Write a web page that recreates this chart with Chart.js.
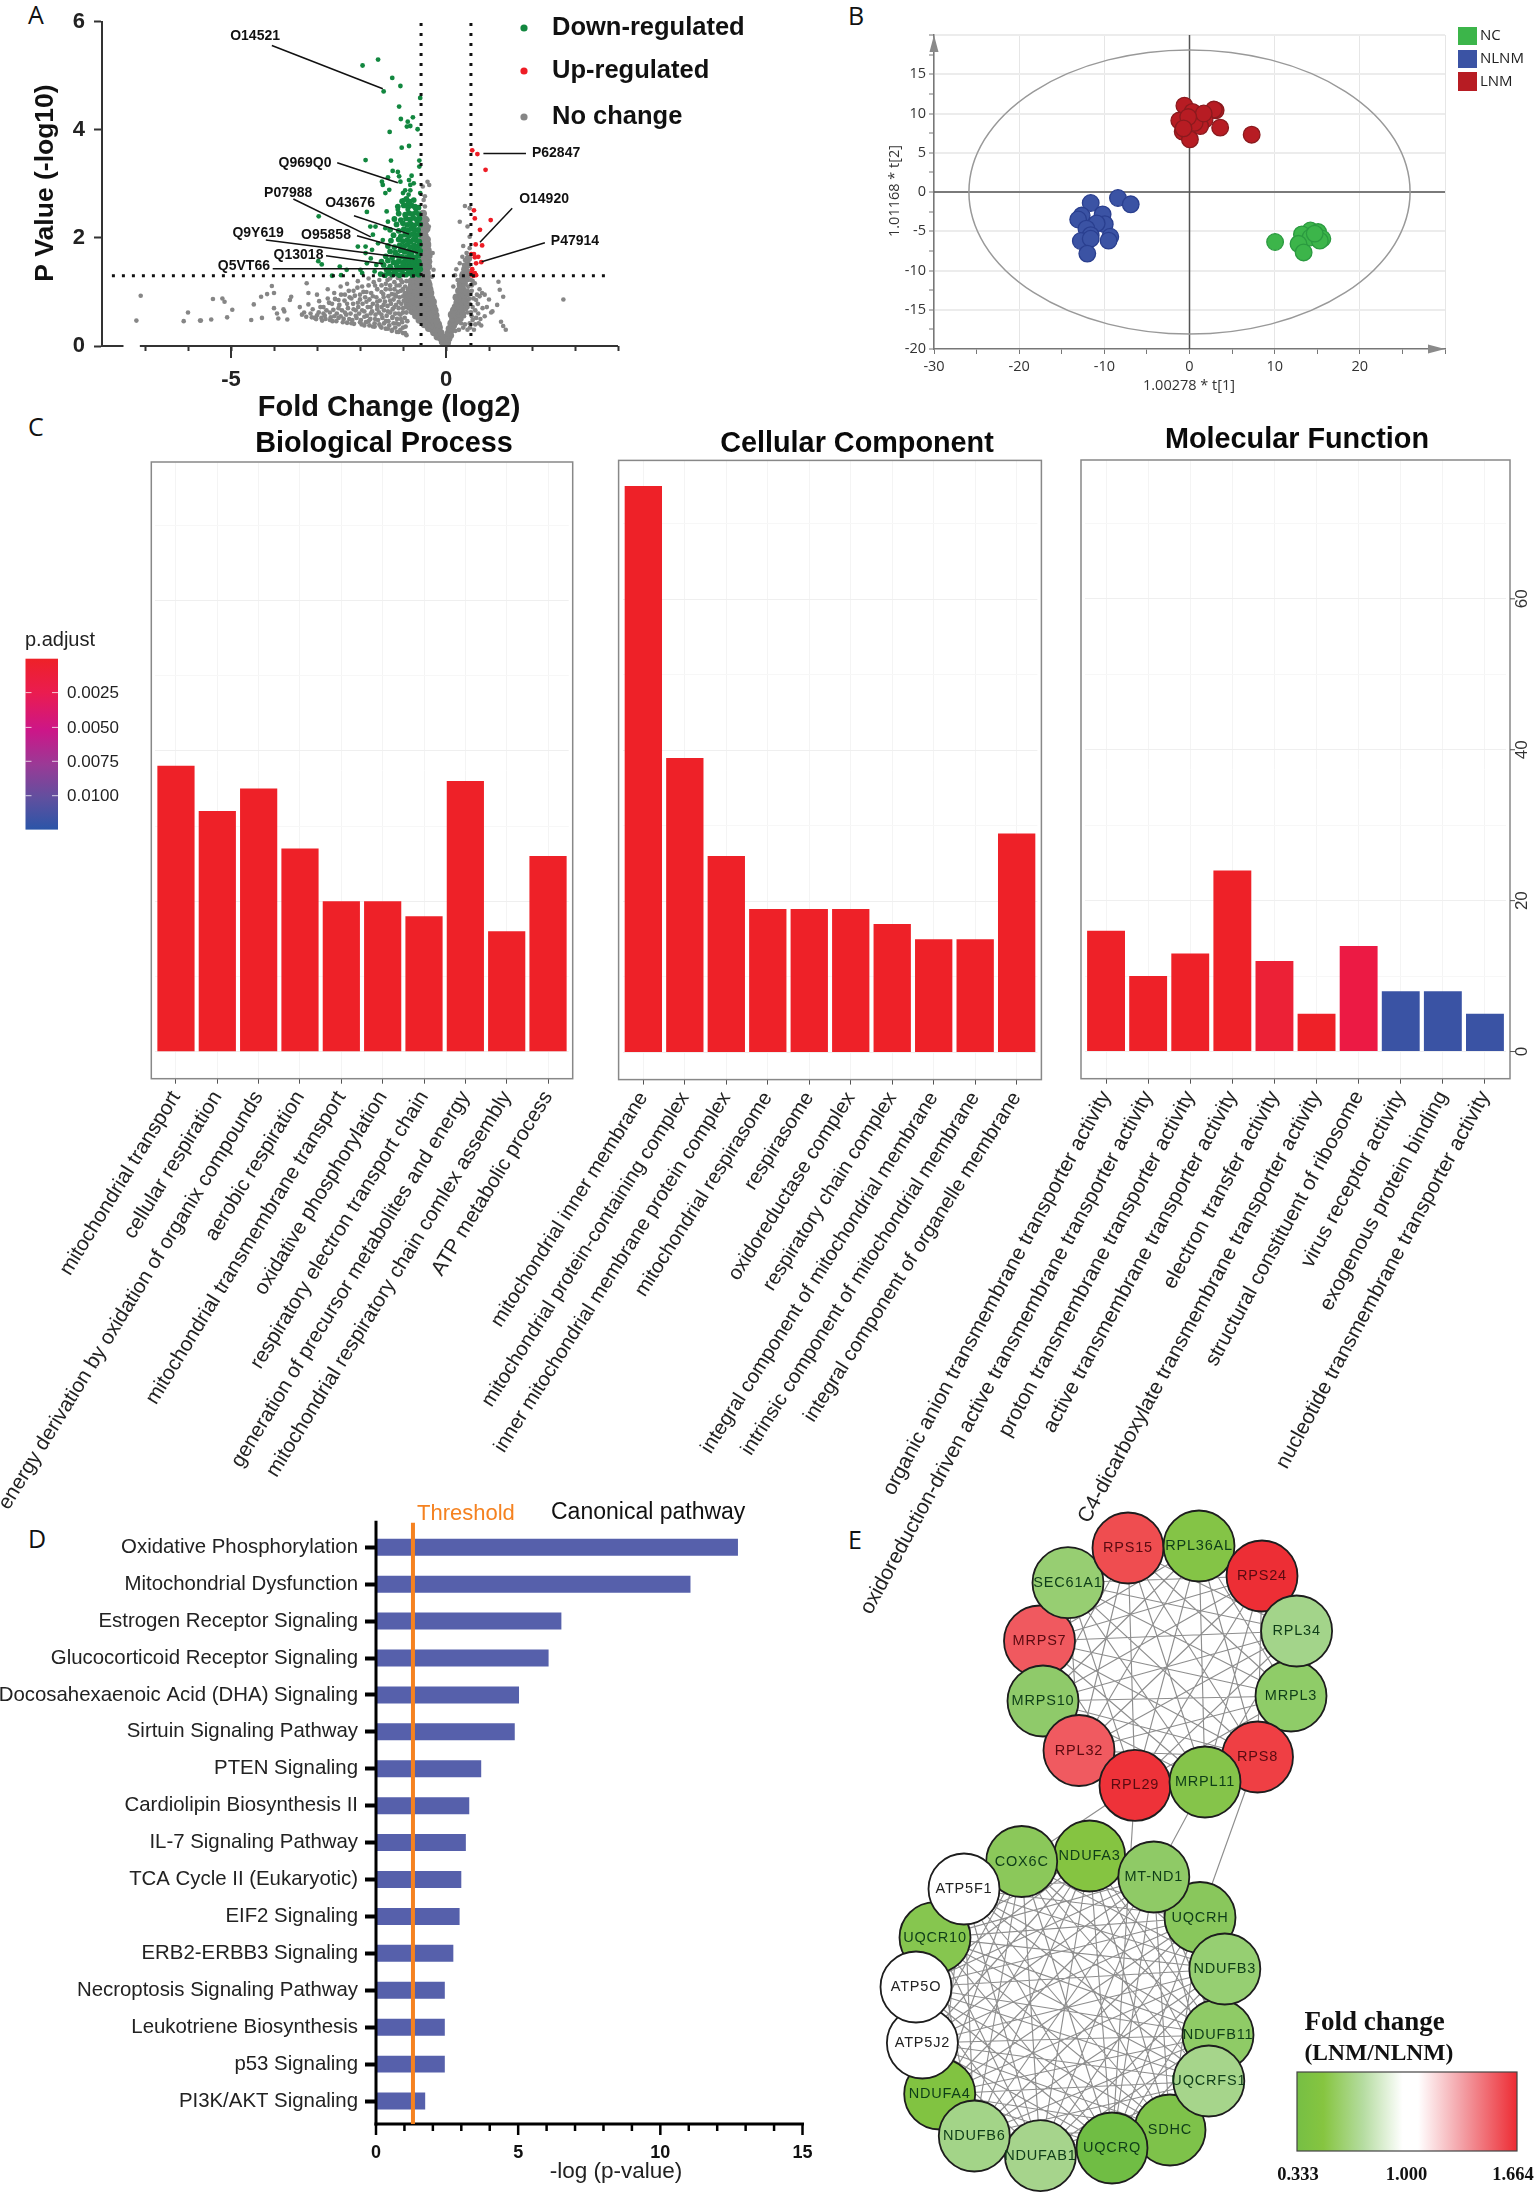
<!doctype html>
<html><head><meta charset="utf-8">
<style>
html,body{margin:0;padding:0;background:#fff;width:1535px;height:2192px;overflow:hidden}
canvas{position:absolute}
.tag{position:absolute;font:25px "Open Sans",sans-serif;color:#111;line-height:1}
</style>
<script src="https://cdn.jsdelivr.net/npm/chart.js@4"></script>
</head><body>
<div class="tag" style="left:28px;top:2px">A</div>
<div class="tag" style="left:848px;top:3px">B</div>
<div class="tag" style="left:28px;top:414px">C</div>
<div class="tag" style="left:28px;top:1526px">D</div>
<div class="tag" style="left:848px;top:1527px">E</div>
<script>
/* ---------- Panel A data: log2 fold change, -log10 p ---------- */
const fcCut=[-0.58,0.58];
const pCut=[1.3];
const volcanoUp=[[.61,3.62],[.73,3.55],[.92,3.26],[.65,2.51],[.67,2.36],[1.04,2.33],[.79,2.15],[.69,1.88],[.84,1.86],[.59,1.7],[.65,1.7],[.67,1.64],[.75,1.65],[.7,1.53],[.82,1.55],[.61,1.42],[.59,1.35],[.67,1.35],[.64,1.3],[.7,1.31],[.61,1.31],[.66,1.33]];
const volcanoDownSparse=[[-1.58,5.3],[-1.94,5.19],[-1.25,4.96],[-1.06,4.81],[-1.45,4.71],[-.6,4.59],[-1.09,4.43],[-1.05,4.2],[-.77,4.23],[-.89,4.15],[-.83,4.07],[-.91,4.06],[-.66,4.01],[-1.31,3.96],[-1.03,3.67],[-.86,3.7],[-1.87,3.44],[-1.28,3.43],[-.62,3.43],[-.62,3.32],[-1.24,3.24],[-1.12,3.22],[-1.35,3.12],[-1.09,3.14],[-.8,3.15],[-1.06,3.04],[-.86,3.07],[-1.49,3.04],[-1.47,2.98],[-.83,2.98],[-.75,3.01],[-1.32,2.89],[-.95,2.88],[-.83,2.88],[-1.41,2.83],[-1,2.83],[-.87,2.8],[-.6,2.83],[-.98,2.7],[-.89,2.64],[-1.84,2.48],[-2.96,2.4],[-1.38,2.49],[-1.12,2.52],[-.89,2.52],[-.72,2.55],[-2.97,1.57],[-2.89,1.51],[-2.47,1.47],[-2.65,1.3],[-2.44,1.31],[-2.31,1.41],[-1.99,1.41],[-1.95,1.35],[-1.84,1.53],[-2.05,1.84],[-1.87,1.72],[-1.72,1.78],[-1.76,2.21],[-1.64,2.21],[-1.7,2.06],[-1.87,1.84],[-1.58,1.9],[-1.47,1.96],[-1.41,2.18],[-1.35,2.3],[-1.75,1.62],[-1.62,1.5],[-1.66,1.38]];
const volcanoDownDense=[[-1.52,1.33],[-1.42,1.31],[-1.33,1.35],[-1.25,1.32],[-1.17,1.34],[-1.08,1.31],[-1,1.33],[-.93,1.32],[-.86,1.35],[-.78,1.31],[-.7,1.34],[-.63,1.32],
[-1.38,1.41],[-1.28,1.43],[-1.2,1.39],[-1.1,1.42],[-1.02,1.4],[-.95,1.44],[-.88,1.41],[-.8,1.39],[-.72,1.43],[-.65,1.4],[-.6,1.42],
[-1.45,1.5],[-1.3,1.47],[-1.15,1.49],[-1.05,1.46],[-.97,1.5],[-.9,1.48],[-.83,1.47],[-.75,1.51],[-.68,1.48],[-.61,1.49],
[-1.5,1.56],[-1.35,1.58],[-1.22,1.55],[-1.1,1.57],[-1,1.54],[-.92,1.58],[-.85,1.56],[-.77,1.55],[-.7,1.58],[-.63,1.56],
[-1.4,1.66],[-1.25,1.64],[-1.12,1.67],[-1.03,1.65],[-.94,1.63],[-.86,1.67],[-.78,1.65],[-.71,1.64],[-.64,1.67],
[-1.3,1.75],[-1.18,1.73],[-1.06,1.77],[-.96,1.74],[-.88,1.76],[-.8,1.73],[-.73,1.77],[-.66,1.74],[-.6,1.76],
[-1.35,1.85],[-1.2,1.83],[-1.08,1.86],[-.98,1.84],[-.9,1.87],[-.82,1.83],[-.74,1.86],[-.67,1.84],[-.61,1.87],
[-1.28,1.95],[-1.1,1.97],[-1,1.94],[-.9,1.96],[-.83,1.93],[-.75,1.97],[-.68,1.95],[-.62,1.93],
[-1.22,2.05],[-1.05,2.03],[-.95,2.06],[-.86,2.04],[-.78,2.07],[-.7,2.04],[-.63,2.06],
[-1.3,2.15],[-1.1,2.13],[-.98,2.16],[-.88,2.14],[-.8,2.17],[-.72,2.14],[-.65,2.15],
[-1.15,2.25],[-1,2.27],[-.9,2.24],[-.82,2.26],[-.74,2.23],[-.66,2.27],[-.6,2.25],
[-1.2,2.35],[-1.05,2.33],[-.93,2.36],[-.84,2.34],[-.76,2.37],[-.68,2.34],[-.62,2.36],
[-1.1,2.45],[-.95,2.43],[-.86,2.46],[-.78,2.44],[-.7,2.47],[-.63,2.44],
[-1.12,2.58],[-.98,2.6],[-.88,2.57],[-.8,2.6],[-.72,2.58],[-.64,2.56],
[-1.02,2.68],[-.92,2.72],[-.85,2.67],[-.75,2.7]];
const volcanoNoChangeSparse=[[-7.1,.93],[-7.2,.47],[-6,.62],[-6.1,.46],[-5.7,.47],[-5.72,.47],[-5.42,.87],[-5.46,.49],[-5.2,.88],[-5.15,.82],[-5.09,.53],[-4.97,.67],[-4.47,.77],[-4.53,.48],[-4.3,.91],[-4.28,.52],[-4.16,.96],[-4,.98],[-4.05,1.11],[-4,.7],[-3.93,.6],[-3.9,.51],[-3.76,.64],[-3.69,.49],[-3.78,.68],[-3.6,.91],[-3.63,.85],[-3.24,1.16],[-3.2,.98],
[-3.4,.72],[-3.35,.58],[-3.3,.62],[-3.25,.54],[-3.2,.77],[-3.15,.6],[-3.1,.68],[-3.05,.52],[-3,.95],[-3,.57],[-2.95,.83],[-2.9,.52],[-2.85,.72],[-2.85,.6],[-2.8,.5],[-2.75,.88],[-2.75,1.05],[-2.7,.48],[-2.7,.62],[-2.65,.78],[-2.6,.98],[-2.6,.55],[-2.55,.46],[-2.5,.7],[-2.5,.85],[-2.45,1.1],[-2.45,.55],[-2.4,.44],[-2.35,.62],[-2.35,.95],[-2.3,.78],[-2.3,1.15],[-2.25,.5],[-2.2,.42],[-2.2,.88],[-2.15,.68],[-2.15,1.02],[-2.1,.56],[-2.05,.8],[-2.05,1.2],[-2,.44],[-2,.95],[-1.95,.66],[-1.95,1.1],[-1.9,.38],[-1.9,.54],[-1.85,.82],[-1.85,1],[-1.8,.46],[-1.8,1.25],[-1.75,.72],[-1.75,.6],[-1.7,.36],[-1.7,.92],[-1.65,1.12],[-1.65,.5],[-1.6,.68],[-1.6,.82],[-1.55,.4],[-1.55,1.22],[-1.5,.34],[-1.5,.58],[-1.5,1],[-1.45,.76],[-1.45,.9],[-1.4,.46],[-1.4,1.15],[-1.35,.32],[-1.35,.64],[-1.3,.84],[-1.3,1.05],[-1.3,1.25],[-1.25,.52],[-1.25,.3],[-1.2,.72],[-1.2,.95],[-1.15,.42],[-1.15,1.12],[-1.1,.26],[-1.1,.6],[-1.1,.82],[-1.05,1.02],[-1.05,1.22],[-1.05,.5],[-1,.34],[-1,.7],[-1,.92],[-.95,.24],[-.95,1.1],
[-.43,3.04],[-.39,2.98],[-.54,2.95],[-.49,2.77],[-.52,2.7],[-.49,2.58],[-.54,2.46],[-.43,2.33],[-.4,2.21],[-.49,2.09],[-.4,1.9],[-.31,1.72],[-.37,1.56],[-.29,1.41],[-.33,1.28],
[.6,.55],[.55,.42],[.62,.72],[.7,.85],[.75,.6],[.68,.4],[.8,.5],[.85,.7],[.72,.95],[.6,1.02],[.78,1.05],[.9,.95],[.82,.38],[.9,.55],[.65,.3],[.5,.3],[.95,.72],[1,.86],[1.05,.62],[1.22,1.19],[1.25,1.04],[1.33,.91],[1.19,.76],[1.08,.64],[1.28,.45],[1.33,.37],[1.39,.3],[2.73,.86],[.55,.88],[.84,.98],[.67,1.16],[.58,1.22],[.6,1.12],[.35,.42],[.42,.55],[.5,.62],[.55,.78],
[.44,2.59],[.32,2.3],[.55,2.55],[.5,2.21],[.55,2.02],[.4,1.85],[.55,1.81],[.32,1.53],[.44,1.59],[.24,1.42],[.21,1.31],[.27,1.22],[.17,1.1],[.38,1.65],[.5,1.47]];
const volcanoNoChangeWing=[[-3.12,.53],[-3.02,.5],[-2.96,.62],[-2.92,.72],[-2.88,.47],[-2.82,.56],[-2.78,.66],[-2.72,.8],[-2.68,.53],[-2.64,.46],[-2.62,.67],[-2.58,.87],[-2.54,.6],[-2.5,.52],[-2.48,.76],[-2.44,.95],[-2.42,.66],[-2.38,.5],[-2.36,.84],[-2.32,.58],[-2.3,.43],[-2.28,.7],[-2.26,1.02],[-2.24,.9],[-2.22,.6],[-2.18,.48],[-2.16,.78],[-2.14,.41],[-2.12,.93],[-2.1,.66],[-2.08,.52],[-2.06,1.08],[-2.04,.72],[-2.02,.6],[-2,.86],[-1.98,.48],[-1.96,.4],[-1.94,.78],[-1.92,1],[-1.9,.64],[-1.88,.9],[-1.86,.44],[-1.84,.56],[-1.82,.72],[-1.8,1.12],[-1.78,.38],[-1.78,.86],[-1.76,.5],[-1.74,.98],[-1.72,.64],[-1.7,.78],[-1.68,1.18],[-1.66,.36],[-1.66,.42],[-1.64,.58],[-1.62,.9],[-1.6,.74],[-1.6,1.05],[-1.58,.48],[-1.56,.62],[-1.54,.84],[-1.52,.36],[-1.5,.72],[-1.5,1.12],[-1.48,.52],[-1.46,.96],[-1.44,.42],[-1.44,.66],[-1.42,.82],[-1.4,.32],[-1.4,1.05],[-1.38,.56],[-1.36,.74],[-1.36,1.22],[-1.34,.46],[-1.34,.92],[-1.32,.38],[-1.3,.62],[-1.3,1.12],[-1.28,.78],[-1.26,.96],[-1.26,.28],[-1.24,.54],[-1.24,.68],[-1.22,.42],[-1.22,.86],[-1.2,1.05],[-1.2,1.18],[-1.18,.34],[-1.18,.6],[-1.16,.76],[-1.16,.92],[-1.14,.26],[-1.14,.5],[-1.12,1],[-1.12,1.26],[-1.1,.7],[-1.1,.4],[-1.08,.9],[-1.08,1.12],[-1.06,.58],[-1.06,.3],[-1.04,.78],[-1.02,.44],[-1.02,1.18],[-1,.62],[-1,.24],[-1,1.05],[-.98,.84],[-.96,.52],[-.96,.98],[-.94,.36],[-.94,.72],[-.92,.2],[-.92,.62],[-.92,1.2],[-.9,.46],
[.24,.42],[.3,.46],[.36,.5],[.42,.6],[.46,.68],[.5,.72],[.52,.86],[.5,.94],[.46,.78],[.36,.58],[.58,.62],[.62,.48],[.56,.34],[.44,.4],[.4,.34],[.3,.3],[.22,.28],[.52,1.1],[.56,.98],[.5,1.22],[.54,1.3],[.64,.88],[.68,.66],[.7,.52],[.74,.78],[.78,.92],[.76,.42],[.62,1.2],[.46,1.5],[.48,1.72],[.3,1.15],[.36,1.3],[.42,1.5]];
const volcanoNoChangeDense=[[-.08,.08],[-.04,.09],[-.2,.17],[-.12,.15],[-.06,.16],[-.28,.25],[-.2,.23],[-.12,.24],[-.4,.33],[-.32,.31],[-.24,.32],[-.16,.34],
[-.5,.4],[-.42,.42],[-.34,.39],[-.26,.41],[-.18,.4],[-.62,.48],[-.54,.49],[-.46,.47],[-.38,.5],[-.3,.48],[-.22,.47],
[-.7,.56],[-.62,.57],[-.54,.55],[-.46,.58],[-.38,.56],[-.3,.55],[-.24,.57],
[-.78,.64],[-.7,.63],[-.62,.66],[-.54,.64],[-.46,.62],[-.38,.65],[-.3,.64],[-.26,.66],
[-.85,.72],[-.77,.74],[-.69,.71],[-.61,.73],[-.53,.72],[-.45,.7],[-.37,.74],[-.29,.72],
[-.9,.8],[-.82,.79],[-.74,.82],[-.66,.8],[-.58,.78],[-.5,.81],[-.42,.8],[-.34,.79],[-.3,.82],
[-.9,.88],[-.82,.9],[-.74,.87],[-.66,.89],[-.58,.88],[-.5,.86],[-.42,.9],[-.34,.88],
[-.88,.96],[-.8,.95],[-.72,.98],[-.64,.96],[-.56,.94],[-.48,.97],[-.4,.96],[-.36,.98],
[-.85,1.04],[-.77,1.06],[-.69,1.03],[-.61,1.05],[-.53,1.04],[-.45,1.02],[-.38,1.05],
[-.8,1.12],[-.72,1.11],[-.64,1.14],[-.56,1.12],[-.48,1.1],[-.4,1.13],
[-.8,1.2],[-.72,1.22],[-.64,1.19],[-.56,1.21],[-.48,1.2],[-.42,1.18],
[-.75,1.28],[-.67,1.27],[-.6,1.29],[-.52,1.28],[-.45,1.26],
[-.56,1.36],[-.5,1.38],[-.44,1.35],[-.55,1.46],[-.48,1.44],[-.41,1.47],[-.56,1.56],[-.48,1.54],[-.41,1.57],[-.55,1.66],[-.48,1.64],[-.4,1.67],[-.56,1.76],[-.48,1.74],[-.42,1.77],[-.55,1.86],[-.48,1.84],[-.43,1.87],[-.55,1.96],[-.48,1.94],[-.44,1.97],[-.55,2.06],[-.49,2.04],[-.55,2.16],[-.48,2.14],[-.45,2.17],[-.54,2.26],[-.48,2.24],[-.54,2.36],[-.48,2.34],[-.53,2.45],
[.03,.06],[.06,.14],[.1,.2],[.06,.24],[.13,.3],[.08,.32],[.17,.38],[.12,.42],[.22,.46],[.16,.5],[.28,.5],[.2,.58],[.13,.58],[.3,.6],[.26,.66],[.18,.66],[.36,.66],[.22,.72],[.3,.74],[.4,.72],[.26,.8],[.36,.82],[.3,.88],[.44,.84],[.24,.9],[.34,.96],[.42,.94],[.3,1.02],[.38,1.06],[.48,1],[.34,1.12],[.42,1.16],[.38,1.22],[.46,1.28],[.4,1.32],[.5,1.36],[.44,1.42],[.5,1.5],[.52,1.62]];
const volcanoLeaders=[
 {id:'O14521',tx:-4.44,ty:5.74,x1:-4.05,y1:5.56,x2:-1.47,y2:4.76},
 {id:'Q969Q0',tx:-3.28,ty:3.39,x1:-2.53,y1:3.39,x2:-1.12,y2:3.02},
 {id:'P07988',tx:-3.67,ty:2.83,x1:-3.55,y1:2.72,x2:-1.75,y2:2.02},
 {id:'O43676',tx:-2.23,ty:2.65,x1:-2.14,y1:2.41,x2:-.86,y2:2.07},
 {id:'Q9Y619',tx:-4.37,ty:2.09,x1:-4.19,y1:1.96,x2:-.73,y2:1.61},
 {id:'O95858',tx:-2.79,ty:2.06,x1:-2.07,y1:2.04,x2:-.65,y2:1.72},
 {id:'Q13018',tx:-3.43,ty:1.69,x1:-2.79,y1:1.67,x2:-1.47,y2:1.52},
 {id:'Q5VT66',tx:-4.7,ty:1.48,x1:-4.03,y1:1.43,x2:-.77,y2:1.43},
 {id:'P62847',tx:2.56,ty:3.57,x1:.87,y1:3.56,x2:1.86,y2:3.56},
 {id:'O14920',tx:2.28,ty:2.72,x1:1.54,y1:2.55,x2:.79,y2:1.92},
 {id:'P47914',tx:3.0,ty:1.94,x1:2.3,y1:1.91,x2:.83,y2:1.56}];

/* ---------- Panel B data: PCA scores ---------- */
const pcaLNM=[[-.6,11],[.35,10.2],[3.07,10.4],[2.86,10.5],[-1.2,9.1],[1.77,9.2],[1.25,8.4],[3.6,8.2],[7.3,7.3],[-.8,7.7],[.05,6.7],[.6,8.8],[1.67,10],[-.15,9.55],[-.7,8.1]];
const pcaNLNM=[[-8.4,-.76],[-6.9,-1.57],[-11.6,-1.4],[-10.2,-2.85],[-12.66,-3],[-13.07,-3.5],[-9.95,-4.1],[-10.9,-4],[-12.1,-4.67],[-11.6,-5.5],[-9.3,-5.7],[-9.5,-6.2],[-12.76,-6.24],[-11.6,-5.95],[-12,-7.85]];
const pcaNC=[[10.05,-6.37],[14.2,-4.9],[15.1,-5.1],[13.2,-5.4],[14.2,-5.8],[15.6,-5.95],[15.3,-6.2],[12.8,-6.6],[13.4,-7.7],[14.7,-5.3]];
const hotelling=[25.9,18.1];
const pcaLegend=['NC','NLNM','LNM'];

/* ---------- Panel C data: GO enrichment ---------- */
const bpTerms=['mitochondrial transport','cellular respiration','energy derivation by oxidation of organix compounds','aerobic respiration','mitochondrial transmembrane transport','oxidative phosphorylation','respiratory electron transport chain','generation of precursor metabolites and energy','mitochondrial respiratory chain comlex assembly','ATP metabolic process'];
const bpCounts=[38,32,35,27,20,20,18,36,16,26];
const ccTerms=['mitochondrial inner membrane','mitochondrial protein-containing complex','inner mitochondrial membrane protein complex','mitochondrial respirasome','respirasome','oxidoreductase complex','respiratory chain complex','integral component of mitochondrial membrane','intrinsic component of mitochondrial membrane','integral component of organelle membrane'];
const ccCounts=[75,39,26,19,19,19,17,15,15,29];
const mfTerms=['organic anion transmembrane transporter activity','oxidoreduction-driven active transmembrane transporter activity','proton transmembrane transporter activity','active transmembrane transporter activity','electron transfer activity','C4-dicarboxylate transmembrane transporter activity','structural constituent of ribosome','virus receptor activity','exogenous protein binding','nucleotide transmembrane transporter activity'];
const mfCounts=[16,10,13,24,12,5,14,8,8,5];
const bpColors=['#ee2128','#ee2128','#ee2128','#ee2128','#ee2128','#ee2128','#ee2128','#ee2128','#ee2128','#ee2128'];
const ccColors=bpColors;
const mfColors=['#ee2128','#ee2128','#ee2128','#ee2128','#ec2136','#ee2128','#ec1a44','#3a53a4','#3a53a4','#3a53a4'];
const goTicks=[0,10,20,30,40,50,60,70];
const goLabelled=[0,20,40,60];
const padjustLabels=['0.0025','0.0050','0.0075','0.0100'];

/* ---------- Panel D data ---------- */
const pathways=['Oxidative Phosphorylation','Mitochondrial Dysfunction','Estrogen Receptor Signaling','Glucocorticoid Receptor Signaling','Docosahexaenoic Acid (DHA) Signaling','Sirtuin Signaling Pathway','PTEN Signaling','Cardiolipin Biosynthesis II','IL-7 Signaling Pathway','TCA Cycle II (Eukaryotic)','EIF2 Signaling','ERB2-ERBB3 Signaling','Necroptosis Signaling Pathway','Leukotriene Biosynthesis','p53 Signaling','PI3K/AKT Signaling'];
const pathwayScores=[12.73,11.06,6.52,6.07,5.03,4.88,3.7,3.28,3.16,3,2.94,2.72,2.42,2.42,2.42,1.73];
const threshold=[1.3];

/* ---------- Panel E data: network nodes in drawing order ---------- */
const topNames=['MRPS7','SEC61A1','RPS15','RPL36AL','RPS24','MRPL3','RPL34','RPS8','MRPS10','RPL32','RPL29','MRPL11'];
const topX=[1039.5,1068,1128,1199,1262,1291,1296.6,1257.5,1043,1079,1135,1205];
const topY=[1641,1582.7,1548,1546,1576,1696,1631,1757,1701,1750.5,1785.4,1782];
const topFill=['#f0595f','#97ce72','#ef4d50','#84c446','#ed2e35','#8fcc68','#a3d48a','#ef3f44','#8fca6a','#f05a60','#ee3239','#85c44a'];
const bottomNames=['NDUFA4','NDUFAB1','NDUFB6','SDHC','UQCRQ','NDUFB11','UQCRFS1','UQCRH','NDUFB3','NDUFA3','COX6C','MT-ND1','UQCR10','ATP5F1','ATP5J2','ATP5O'];
const bottomX=[939.7,1040.4,974.3,1170,1112,1218,1208.8,1200,1224.8,1089.6,1021.7,1153.8,935,964,922.4,916];
const bottomY=[2094,2155.6,2136,2130,2148,2035,2081,1917.5,1969,1856,1861.5,1877,1937.6,1889,2043,1987];
const bottomFill=['#81c341','#a6d48c','#a3d488','#7ec24a','#70bd44','#8fcb66','#a6d58b','#89c75c','#96cf72','#85c441','#8bc85a','#8fca66','#86c64f','#ffffff','#ffffff','#ffffff'];
const crossEdges=[['RPL29','COX6C'],['RPL29','UQCRQ'],['MRPL11','MT-ND1'],['RPS8','UQCRH']];
const foldLabels=['0.333','1.000','1.664'];

/* ---------- helpers ---------- */
const SANS='"Liberation Sans",Arial,sans-serif';
const OPEN='"Open Sans",sans-serif';
const SERIF='"Liberation Serif",serif';
Chart.defaults.animation=false;
Chart.defaults.responsive=false;
Chart.defaults.devicePixelRatio=1;
Chart.defaults.layout.autoPadding=false;
Chart.defaults.plugins.legend.display=false;
Chart.defaults.plugins.tooltip.enabled=false;
function mk(box){const c=document.createElement('canvas');c.width=box.w;c.height=box.h;c.style.left=box.x+'px';c.style.top=box.y+'px';document.body.appendChild(c);return c;}
const fitX=h=>s=>{s.height=h;s.paddingLeft=0;s.paddingRight=0;s.paddingTop=0;s.paddingBottom=0;};
const fitY=w=>s=>{s.width=w;s.paddingLeft=0;s.paddingRight=0;s.paddingTop=0;s.paddingBottom=0;};
const pageText=(box,items)=>({id:'pageText',afterDraw(ch){const c=ch.ctx;c.save();items.forEach(i=>{c.save();c.font=i.font;c.fillStyle=i.color||'#111';c.textAlign=i.align||'center';c.textBaseline='middle';c.translate(i.x-box.x,i.y-box.y);if(i.rot)c.rotate(i.rot);c.fillText(i.text,0,0);c.restore();});c.restore();}});
const seg=(c,a,b,d,e)=>{c.beginPath();c.moveTo(a,b);c.lineTo(d,e);c.stroke();};

/* ---------- A ---------- */
(function(){
 const box={x:0,y:0,w:790,h:430},area={l:102,r:618,t:21.7,b:346};
 const pts=a=>a.map(p=>({x:p[0],y:p[1]}));
 new Chart(mk(box),{type:'scatter',
 data:{datasets:[
  ...fcCut.map(v=>({data:[{x:v,y:0},{x:v,y:6}],showLine:true,pointRadius:0,borderColor:'#111',borderWidth:3,borderDash:[3,7]})),
  {data:[{x:-7.77,y:pCut[0]},{x:3.8,y:pCut[0]}],showLine:true,pointRadius:0,borderColor:'#111',borderWidth:3,borderDash:[3,7]},
  {data:pts(volcanoUp),pointRadius:2.4,backgroundColor:'#ee1c25',borderWidth:0},
  {data:pts(volcanoDownSparse),pointRadius:2.4,backgroundColor:'#12873f',borderWidth:0},
  {data:pts(volcanoDownDense),pointRadius:2.9,backgroundColor:'#12873f',borderWidth:0},
  {data:pts(volcanoNoChangeSparse),pointRadius:2.3,backgroundColor:'#868686',borderWidth:0},
  {data:pts(volcanoNoChangeWing),pointRadius:2.4,backgroundColor:'#868686',borderWidth:0},
  {data:pts(volcanoNoChangeDense),pointRadius:3.8,backgroundColor:'#868686',borderWidth:0}
 ]},
 options:{layout:{padding:{top:area.t,right:box.w-area.r,left:0,bottom:0}},
  scales:{
   x:{type:'linear',min:-8,max:4,afterFit:fitX(box.h-area.b),border:{display:false},
      grid:{drawOnChartArea:false,tickLength:5,tickWidth:2,tickColor:c=>c.tick&&c.tick.value===-8?'transparent':'#333'},
      ticks:{stepSize:1,autoSkip:false,maxRotation:0,minRotation:0,padding:16,color:'#222',font:{family:SANS,size:22,weight:'bold'},callback:v=>(v===-5||v===0)?String(v):''}},
   y:{min:0,max:6,afterFit:fitY(area.l),border:{color:'#333',width:2},
      grid:{drawOnChartArea:false,tickLength:8,tickWidth:2,tickColor:'#333'},
      ticks:{stepSize:2,padding:9,color:'#222',font:{family:SANS,size:22,weight:'bold'}}}
  }},
 plugins:[{id:'axisA',afterDraw(ch){const c=ch.ctx,X=ch.scales.x,Y=ch.scales.y;c.save();c.strokeStyle='#333';c.lineWidth=2;
    const y0=Y.getPixelForValue(0);
    seg(c,X.getPixelForValue(-8),y0,X.getPixelForValue(-7.5),y0);
    seg(c,X.getPixelForValue(-7.12),y0,X.getPixelForValue(4),y0);
    [-5,0].forEach(v=>seg(c,X.getPixelForValue(v),y0,X.getPixelForValue(v),y0+12));
    c.lineWidth=1.5;c.strokeStyle='#111';c.fillStyle='#111';c.font='bold 14px '+SANS;c.textAlign='center';c.textBaseline='middle';
    volcanoLeaders.forEach(l=>{seg(c,X.getPixelForValue(l.x1),Y.getPixelForValue(l.y1),X.getPixelForValue(l.x2),Y.getPixelForValue(l.y2));c.fillText(l.id,X.getPixelForValue(l.tx),Y.getPixelForValue(l.ty));});
    [['#12873f',28],['#ee1c25',71],['#868686',117]].forEach(a=>{c.fillStyle=a[0];c.beginPath();c.arc(524,a[1],3.6,0,7);c.fill();});
    c.restore();}},
  pageText(box,[
   {text:'Down-regulated',x:552,y:28,align:'left',font:'bold 25.5px '+SANS},
   {text:'Up-regulated',x:552,y:71,align:'left',font:'bold 25.5px '+SANS},
   {text:'No change',x:552,y:117,align:'left',font:'bold 25.5px '+SANS},
   {text:'Fold Change (log2)',x:389,y:407.5,font:'bold 29px '+SANS},
   {text:'P Value (-log10)',x:46,y:183,rot:-Math.PI/2,font:'bold 26.5px '+SANS}])]
 });
})();

/* ---------- B ---------- */
(function(){
 const box={x:840,y:0,w:695,h:410},area={l:94,r:605,t:35,b:349};
 const pts=a=>a.map(p=>({x:p[0],y:p[1]}));
 const dot=(a,f,b)=>({data:pts(a),pointRadius:8.3,backgroundColor:f,borderColor:b,borderWidth:1.3});
 new Chart(mk(box),{type:'scatter',
 data:{datasets:[dot(pcaLNM,'#b71c23','#8a1a1e'),dot(pcaNLNM,'#3b53a4','#2a3f8f'),dot(pcaNC,'#3cb54a','#2b9a40')]},
 options:{layout:{padding:{top:area.t,right:box.w-area.r,left:0,bottom:0}},
  scales:{
   x:{type:'linear',min:-30,max:30,afterFit:fitX(box.h-area.b),border:{color:'#777',width:1.5},
      grid:{color:c=>c.tick&&c.tick.value%10===0?'#e6e6e6':'transparent',tickLength:5,tickColor:'#777'},
      ticks:{stepSize:5,autoSkip:false,maxRotation:0,minRotation:0,padding:4,color:'#333',font:{family:OPEN,size:14.5},callback:v=>(v%10===0&&v<30)?String(v):''}},
   y:{min:-20,max:20,afterFit:fitY(area.l),border:{color:'#777',width:1.5},
      grid:{color:c=>c.tick&&c.tick.value%5===0&&c.tick.value>-20?'#ececec':'transparent',lineWidth:2,tickLength:5,tickColor:'#777',tickWidth:1},
      ticks:{stepSize:2.5,autoSkip:false,padding:3,color:'#333',font:{family:OPEN,size:14.5},callback:v=>(v%5===0&&v<20)?String(v):''}}
  }},
 plugins:[{id:'pcaFrame',beforeDatasetsDraw(ch){const c=ch.ctx,X=ch.scales.x,Y=ch.scales.y,a=ch.chartArea;c.save();
    c.strokeStyle='#555';c.lineWidth=1.5;seg(c,X.getPixelForValue(0),a.top,X.getPixelForValue(0),a.bottom);seg(c,a.left,Y.getPixelForValue(0),a.right,Y.getPixelForValue(0));
    c.strokeStyle='#999';c.beginPath();c.ellipse(X.getPixelForValue(0),Y.getPixelForValue(0),X.getPixelForValue(hotelling[0])-X.getPixelForValue(0),Y.getPixelForValue(0)-Y.getPixelForValue(hotelling[1]),0,0,7);c.stroke();
    c.fillStyle='#8a8a8a';
    c.beginPath();c.moveTo(a.left,a.top);c.lineTo(a.left-4.5,a.top+17);c.lineTo(a.left+4.5,a.top+17);c.fill();
    c.beginPath();c.moveTo(a.right,a.bottom);c.lineTo(a.right-17,a.bottom-4.5);c.lineTo(a.right-17,a.bottom+4.5);c.fill();
    ['#3cb54a','#3b53a4','#b71c23'].forEach((f,i)=>{c.fillStyle=f;c.fillRect(618,[27,50,72][i],19,[18,18,19][i]);});
    c.restore();}},
  pageText(box,[
   {text:'1.00278 * t[1]',x:1189,y:386,font:'14.5px '+OPEN,color:'#333'},
   {text:'1.01168 * t[2]',x:895,y:191,rot:-Math.PI/2,font:'14.5px '+OPEN,color:'#333'},
   {text:pcaLegend[0],x:1480,y:36,align:'left',font:'15px '+OPEN,color:'#222'},
   {text:pcaLegend[1],x:1480,y:59,align:'left',font:'15px '+OPEN,color:'#222'},
   {text:pcaLegend[2],x:1480,y:82,align:'left',font:'15px '+OPEN,color:'#222'}])]
 });
})();

/* ---------- C ---------- */
function goPanel(box,area,terms,counts,colors,title,titleX,titleY,right,angle,labelSize,extra){
 new Chart(mk(box),{type:'bar',
 data:{labels:terms,datasets:[{data:counts,backgroundColor:colors,barPercentage:.9,categoryPercentage:1,borderWidth:0}]},
 options:{layout:{padding:{top:area.t-box.y,right:right?0:box.x+box.w-area.r,left:right?area.l-box.x:0,bottom:0}},
  scales:{
   x:{afterFit:fitX(box.y+box.h-area.b),border:{display:false},
      grid:{offset:false,color:'#f4f4f4',tickLength:5,tickColor:'#555'},
      ticks:{autoSkip:false,minRotation:angle,maxRotation:angle,padding:3,color:'#222',font:{family:SANS,size:labelSize}}},
   y:{position:right?'right':'left',min:-3.6,max:78.4,afterFit:fitY(right?box.x+box.w-area.r:area.l-box.x),border:{display:false},
      afterBuildTicks:s=>{s.ticks=goTicks.map(v=>({value:v}));},
      grid:{color:c=>c.tick&&c.tick.value%20===0?'#efefef':'#f7f7f7',drawTicks:false},
      ticks:{display:false}}
  }},
 plugins:[{id:'frame',beforeDatasetsDraw(ch){const c=ch.ctx,a=ch.chartArea;c.save();c.strokeStyle='#888';c.lineWidth=1.5;c.strokeRect(a.left-4,a.top,a.right-a.left+8,a.bottom-a.top);
    c.restore();},
    afterDraw(ch){if(!right)return;const c=ch.ctx,a=ch.chartArea;c.save();c.strokeStyle='#555';c.lineWidth=1;c.fillStyle='#333';c.font='17px '+SANS;c.textAlign='center';c.textBaseline='middle';
      goLabelled.forEach(v=>{const y=ch.scales.y.getPixelForValue(v);seg(c,a.right+4,y,a.right+9,y);c.save();c.translate(a.right+16.5,y);c.rotate(-Math.PI/2);c.fillText(String(v),0,0);c.restore();});
      c.restore();}},
  pageText(box,[{text:title,x:titleX,y:titleY,font:'bold 28.8px '+SANS,color:'#0a0a0a'}].concat(extra?extra.text:[])),
  extra?extra.plugin:{id:'none'}]
 });
}
goPanel({x:0,y:420,w:600,h:1270},{l:155.3,r:568.7,t:462,b:1078.7},bpTerms,bpCounts,bpColors,'Biological Process',384,444,false,58.4,20.8,{
 text:[{text:'p.adjust',x:25,y:640,align:'left',font:'20px '+SANS,color:'#222'}].concat(padjustLabels.map((t,i)=>({text:t,x:67,y:[693.6,728.4,762.3,796.7][i],align:'left',font:'17px '+SANS,color:'#222'}))),
 plugin:{id:'padjustBar',afterDraw(ch){const c=ch.ctx;c.save();const top=658.7-420,bot=829.6-420,g=c.createLinearGradient(0,top,0,bot);
   g.addColorStop(0,'#ee2128');g.addColorStop(.2,'#ea1c50');g.addColorStop(.42,'#cc1688');g.addColorStop(.62,'#9a3a96');g.addColorStop(.82,'#5f509f');g.addColorStop(1,'#2b55a8');
   c.fillStyle=g;c.fillRect(25.5,top,32.5,bot-top);c.strokeStyle='rgba(255,255,255,.75)';c.lineWidth=1;
   [692.6,727.4,761.3,795.7].forEach(y=>{seg(c,25.5,y-420,31.5,y-420);seg(c,52,y-420,58,y-420);});c.restore();}}});
goPanel({x:420,y:420,w:660,h:1270},{l:622.6,r:1037.4,t:460.4,b:1079.6},ccTerms,ccCounts,ccColors,'Cellular Component',857,444,false,57.5,20.3);
goPanel({x:840,y:420,w:695,h:1270},{l:1085,r:1506,t:460,b:1078.7},mfTerms,mfCounts,mfColors,'Molecular Function',1297,440,true,61.5,21);

/* ---------- D ---------- */
(function(){
 const box={x:0,y:1480,w:830,h:712},area={l:376,r:802.5,t:1528.8,b:2119.5};
 new Chart(mk(box),{type:'bar',
 data:{labels:pathways,datasets:[{data:pathwayScores,backgroundColor:'#5660ab',barPercentage:.46,categoryPercentage:1,borderWidth:0}]},
 options:{indexAxis:'y',layout:{padding:{top:area.t-box.y,right:box.x+box.w-area.r,left:0,bottom:0}},
  scales:{
   x:{type:'linear',min:0,max:15,afterFit:fitX(box.y+box.h-area.b),border:{display:false},
      grid:{display:true,drawOnChartArea:false,drawTicks:false},
      ticks:{stepSize:1,autoSkip:false,maxRotation:0,minRotation:0,padding:23,color:'#111',font:{family:SANS,size:18,weight:'bold'},callback:v=>v%5===0?String(v):''}},
   y:{type:'category',afterFit:fitY(area.l),border:{display:false},
      grid:{offset:false,drawOnChartArea:false,tickLength:11,tickWidth:4,tickColor:'#000'},
      ticks:{autoSkip:false,padding:7,color:'#222',font:{family:SANS,size:20.4}}}
  }},
 plugins:[{id:'axisD',afterDraw(ch){const c=ch.ctx,X=ch.scales.x,a=ch.chartArea;c.save();c.strokeStyle='#000';
    const yb=a.bottom+4.5;c.lineWidth=3;
    seg(c,a.left,a.top-8,a.left,yb+1.5);seg(c,a.left-1.5,yb,a.right+1.5,yb);
    for(let v=0;v<=15;v++){const x=X.getPixelForValue(v);c.lineWidth=2.5;seg(c,x,yb,x,yb+(v%5===0?11:7));}
    c.strokeStyle='#f58220';c.lineWidth=4;const t=X.getPixelForValue(threshold[0]);seg(c,t,a.top-6,t,yb);
    c.restore();}},
  pageText(box,[
   {text:'Threshold',x:417,y:1514,align:'left',font:'22px '+SANS,color:'#f58220'},
   {text:'Canonical pathway',x:551,y:1513,align:'left',font:'23px '+SANS,color:'#111'},
   {text:'-log (p-value)',x:616,y:2172,font:'22.5px '+SANS,color:'#222'}])]
 });
})();

/* ---------- E ---------- */
(function(){
 const box={x:840,y:1490,w:695,h:702};
 const names=topNames.concat(bottomNames),xs=topX.concat(bottomX),ys=topY.concat(bottomY),fills=topFill.concat(bottomFill);
 const at=n=>names.indexOf(n);
 const edges=[];
 const push=(a,b)=>{edges.push({x:xs[a],y:ys[a]},{x:xs[b],y:ys[b]},{x:null,y:null});};
 [topNames,bottomNames].forEach(g=>{for(let i=0;i<g.length;i++)for(let j=i+1;j<g.length;j++)push(at(g[i]),at(g[j]));});
 crossEdges.forEach(e=>push(at(e[0]),at(e[1])));
 new Chart(mk(box),{type:'scatter',
 data:{datasets:[
  {data:names.map((n,i)=>({x:xs[i],y:ys[i]})),pointRadius:35.5,backgroundColor:fills,borderColor:'#1d1d1d',borderWidth:1.8},
  {data:edges,showLine:true,spanGaps:false,pointRadius:0,borderColor:'#8e8e8e',borderWidth:1.15}
 ]},
 options:{layout:{padding:0},scales:{x:{type:'linear',display:false,min:840,max:1535},y:{type:'linear',display:false,min:1490,max:2192,reverse:true}},clip:false},
 plugins:[{id:'nodeLabels',afterDraw(ch){const c=ch.ctx,X=ch.scales.x,Y=ch.scales.y;c.save();c.font='14.5px '+SANS;c.letterSpacing='0.8px';c.textAlign='center';c.textBaseline='middle';
    names.forEach((n,i)=>{const f=fills[i];c.fillStyle=f==='#ffffff'?'#222':(parseInt(f.slice(1,3),16)>200?'#5a0a10':'#0e3d18');c.fillText(n,X.getPixelForValue(xs[i]),Y.getPixelForValue(ys[i]));});
    c.letterSpacing='0px';
    const g=c.createLinearGradient(1297-840,0,1517-840,0);
    g.addColorStop(0,'#76bf44');g.addColorStop(.12,'#86c540');g.addColorStop(.3,'#b5dca0');g.addColorStop(.48,'#ffffff');g.addColorStop(.55,'#ffffff');g.addColorStop(.75,'#f3a0a6');g.addColorStop(1,'#ed2b33');
    c.fillStyle=g;c.fillRect(1297-840,2072-1490,220,79);c.strokeStyle='#444';c.lineWidth=1.2;c.strokeRect(1297-840,2072-1490,220,79);
    c.restore();}},
  pageText(box,[
   {text:'Fold change',x:1304.5,y:2023,align:'left',font:'bold 27px '+SERIF,color:'#111'},
   {text:'(LNM/NLNM)',x:1304.5,y:2054,align:'left',font:'bold 23.5px '+SERIF,color:'#111'},
   {text:foldLabels[0],x:1298,y:2175,font:'bold 18.5px '+SERIF,color:'#111'},
   {text:foldLabels[1],x:1406.5,y:2175,font:'bold 18.5px '+SERIF,color:'#111'},
   {text:foldLabels[2],x:1513,y:2175,font:'bold 18.5px '+SERIF,color:'#111'}])]
 });
})();
</script>
</body></html>
